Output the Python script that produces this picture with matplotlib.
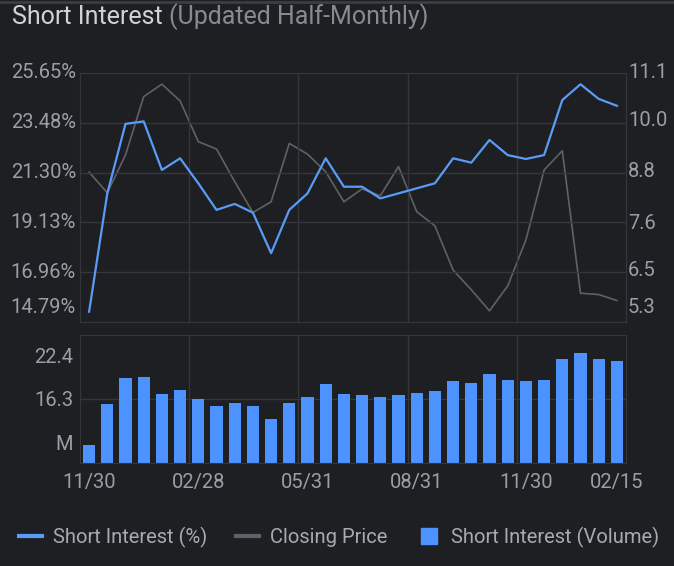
import numpy as np
import matplotlib.pyplot as plt
from matplotlib.lines import Line2D
from matplotlib.transforms import blended_transform_factory

# half-monthly settlement dates, 30 points
date_labels = ["11/30", "02/28", "05/31", "08/31", "11/30", "02/15"]
label_idx = [0, 6, 12, 18, 24, 29]

short_pct = [15.24, 20.40, 23.43, 23.54, 21.42, 21.93, 20.84, 19.68, 19.94, 19.56,
             17.79, 19.68, 20.40, 21.93, 20.69, 20.69, 20.18, 20.40, 20.62, 20.84,
             21.93, 21.74, 22.73, 22.07, 21.90, 22.07, 24.47, 25.16, 24.52, 24.22]

close_price = [8.79, 8.31, 9.19, 10.55, 10.84, 10.45, 9.50, 9.33, 8.57, 7.85,
               8.10, 9.46, 9.21, 8.80, 8.10, 8.40, 8.24, 8.92, 7.87, 7.54,
               6.51, 6.05, 5.56, 6.14, 7.21, 8.84, 9.29, 5.97, 5.94, 5.80]

short_vol = [9.82, 15.50, 19.12, 19.30, 16.91, 17.47, 16.30, 15.31, 15.64, 15.22,
             13.43, 15.68, 16.58, 18.36, 16.91, 16.86, 16.58, 16.86, 17.09, 17.43,
             18.74, 18.50, 19.68, 18.92, 18.74, 18.92, 21.80, 22.64, 21.88, 21.56]

pct_ticks = [14.79, 16.96, 19.13, 21.30, 23.48, 25.65]
price_ticks = [5.3, 6.5, 7.6, 8.8, 10.0, 11.1]
vol_ticks = [10.2, 16.3, 22.4]

BG = "#1e1f23"
GRID = "#34363c"
TXT = "#9b9ea4"
BLUE = "#5a9cf5"
BAR = "#4c93ff"
GREY = "#5e6166"
FS = 14.5

plt.rcParams['font.family'] = ['Roboto', 'DejaVu Sans']

fig = plt.figure(figsize=(6.74, 5.66), dpi=100, facecolor=BG)
W, H = 674, 566

def axes_px(left, top, right, bottom):
    return fig.add_axes([left / W, 1 - bottom / H, (right - left) / W, (bottom - top) / H])

x = np.arange(len(short_pct))
vgrid = [5.5, 11.5, 17.5, 23.5]

# --- top panel: short interest % and closing price ---
ax = axes_px(80, 73, 626, 322)
ax.set_xlim(-0.5, len(x) - 0.5)
ax.set_ylim(pct_ticks[0], pct_ticks[-1])
for v in vgrid:
    ax.axvline(v, color=GRID, lw=1, zorder=0)
for t in pct_ticks[1:-1]:
    ax.axhline(t, color=GRID, lw=1, zorder=0)
ax.set_xticks([])
ax.set_yticks([])
for s in ax.spines.values():
    s.set_color(GRID)

ax2 = ax.twinx()
ax2.set_ylim(price_ticks[0], price_ticks[-1])
ax2.set_yticks([])
ax2.plot(x, close_price, color=GREY, lw=1.2, zorder=2)
ax2.set_zorder(ax.get_zorder() - 1)
ax.patch.set_visible(False)
ax2.patch.set_facecolor(BG)
ax.plot(x, short_pct, color=BLUE, lw=1.6, zorder=3)
for s in ax2.spines.values():
    s.set_color(GRID)

# tick labels, lowest ones lifted a bit like the original
tl = blended_transform_factory(fig.transFigure, ax.transData)
tr = blended_transform_factory(fig.transFigure, ax2.transData)
for i, t in enumerate(pct_ticks):
    yy = t if i > 0 else t + 0.62
    ax.text(76 / W, yy, f"{t:.2f}%", transform=tl, ha="right", va="center",
            color=TXT, fontsize=FS)
for i, t in enumerate(price_ticks):
    yy = t if i > 0 else t + 0.33
    ax2.text(628 / W, yy, f"{t:.1f}", transform=tr, ha="left", va="center",
             color=TXT, fontsize=FS)

# --- bottom panel: short interest volume ---
bx = axes_px(80, 335, 626, 463)
bx.set_facecolor(BG)
bx.set_xlim(-0.5, len(x) - 0.5)
bx.set_ylim(7.3, 25.2)
for v in vgrid:
    bx.axvline(v, color=GRID, lw=1, zorder=0)
bx.axhline(vol_ticks[1], color=GRID, lw=1, zorder=0)
bx.bar(x, short_vol, width=0.66, color=BAR, zorder=2)
for s in bx.spines.values():
    s.set_color(GRID)
bx.set_yticks(vol_ticks)
bx.set_yticklabels(["M", "16.3", "22.4"])
bx.set_xticks(label_idx)
bx.set_xticklabels(date_labels)
bx.tick_params(length=0, colors=TXT, labelsize=FS, pad=7)
bx.tick_params(axis="y", pad=5)

# title
t1 = fig.text(12 / W, 1 - 17 / H, "Short Interest", color="#d0d2d6", fontsize=18,
              ha="left", va="center")
bb = t1.get_window_extent(renderer=fig.canvas.get_renderer())
fig.text((bb.x1 + 6) / W, 1 - 17 / H, "(Updated Half-Monthly)", color="#878a90",
         fontsize=18, ha="left", va="center")
fig.add_artist(Line2D([0, 1], [1 - 1.5 / H, 1 - 1.5 / H], transform=fig.transFigure,
                      color="#3b3d43", lw=2))

# legend
handles = [Line2D([], [], color=BLUE, lw=3),
           Line2D([], [], color=GREY, lw=3),
           Line2D([], [], color=BAR, marker="s", markersize=11, linestyle="none")]
fig.legend(handles, ["Short Interest (%)", "Closing Price", "Short Interest (Volume)"],
           loc="center", bbox_to_anchor=(339 / W, 1 - 537 / H), ncol=3, frameon=False,
           fontsize=FS, labelcolor="#a7aab0", handlelength=1.15,
           handletextpad=0.55, columnspacing=1.45)

fig.savefig("out.png", dpi=100, facecolor=BG)
